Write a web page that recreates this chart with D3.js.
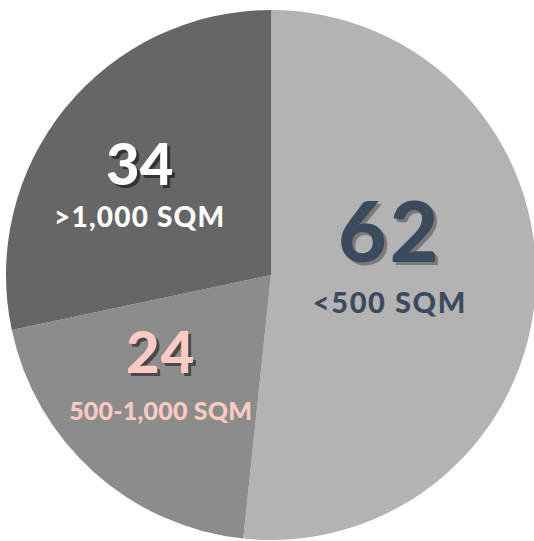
<!DOCTYPE html>
<meta charset="utf-8">
<script src="https://d3js.org/d3.v7.min.js"></script>
<style>
  body { margin: 0; background: #fff; }
  text { font-family: "Lato", "Open Sans", sans-serif; font-weight: 900; }
</style>
<div id="chart"></div>
<script>

// data
var categories = ["<500 SQM", "500-1,000 SQM", ">1,000 SQM"]
var values = [62, 24, 34]

// look of each slice and its label
var sliceColors = ["#b3b3b3", "#8c8c8c", "#666666"]
var textColors = ["#3b4a5d", "#fdcbc3", "#ffffff"]
var shadowColors = ["#7a7a7a", "#4a4a4a", "#333333"]
var numSizes = [84, 58, 58]
var numSpacing = [3, 1, 0]
var labelSizes = [29, 25, 28]
var labelSpacing = [1.6, 0.2, 1.2]
var labelY = [41, 37, 32]
// nudge from the centroid of the label arc
var nudges = [[-1, -9], [-30, 19], [-38, -4]]

var width = 534,
    height = 541,
    radius = 265

var svg = d3.select("#chart")
  .append("svg")
    .attr("width", width)
    .attr("height", height)
  .append("g")
    .attr("transform", "translate(271,275)")

var pie = d3.pie()
  .sort(null)
  .value(function(d) { return d.value })

var data_ready = pie(categories.map(function(c, i) {
  return { key: c, value: values[i], i: i }
}))

var arc = d3.arc().innerRadius(0).outerRadius(radius)
var labelArc = d3.arc().innerRadius(120).outerRadius(120)

svg.selectAll("path")
  .data(data_ready)
  .enter()
  .append("path")
    .attr("d", arc)
    .attr("fill", function(d) { return sliceColors[d.data.i] })

var labels = svg.selectAll("g.lab")
  .data(data_ready)
  .enter()
  .append("g")
    .attr("class", "lab")
    .attr("transform", function(d) {
      var c = labelArc.centroid(d)
      var n = nudges[d.data.i]
      return "translate(" + (c[0] + n[0]) + "," + (c[1] + n[1]) + ")"
    })

// number shadow, then number
labels.append("text")
  .attr("text-anchor", "middle")
  .attr("x", 3).attr("y", -10 + 3)
  .style("font-size", function(d) { return numSizes[d.data.i] + "px" })
  .style("letter-spacing", function(d) { return numSpacing[d.data.i] + "px" })
  .attr("fill", function(d) { return shadowColors[d.data.i] })
  .text(function(d) { return d.data.value })

labels.append("text")
  .attr("text-anchor", "middle")
  .attr("y", -10)
  .style("font-size", function(d) { return numSizes[d.data.i] + "px" })
  .style("letter-spacing", function(d) { return numSpacing[d.data.i] + "px" })
  .attr("fill", function(d) { return textColors[d.data.i] })
  .text(function(d) { return d.data.value })

labels.append("text")
  .attr("text-anchor", "middle")
  .attr("y", function(d) { return labelY[d.data.i] })
  .style("font-size", function(d) { return labelSizes[d.data.i] + "px" })
  .style("letter-spacing", function(d) { return labelSpacing[d.data.i] + "px" })
  .attr("fill", function(d) { return textColors[d.data.i] })
  .text(function(d) { return d.data.key })

</script>
